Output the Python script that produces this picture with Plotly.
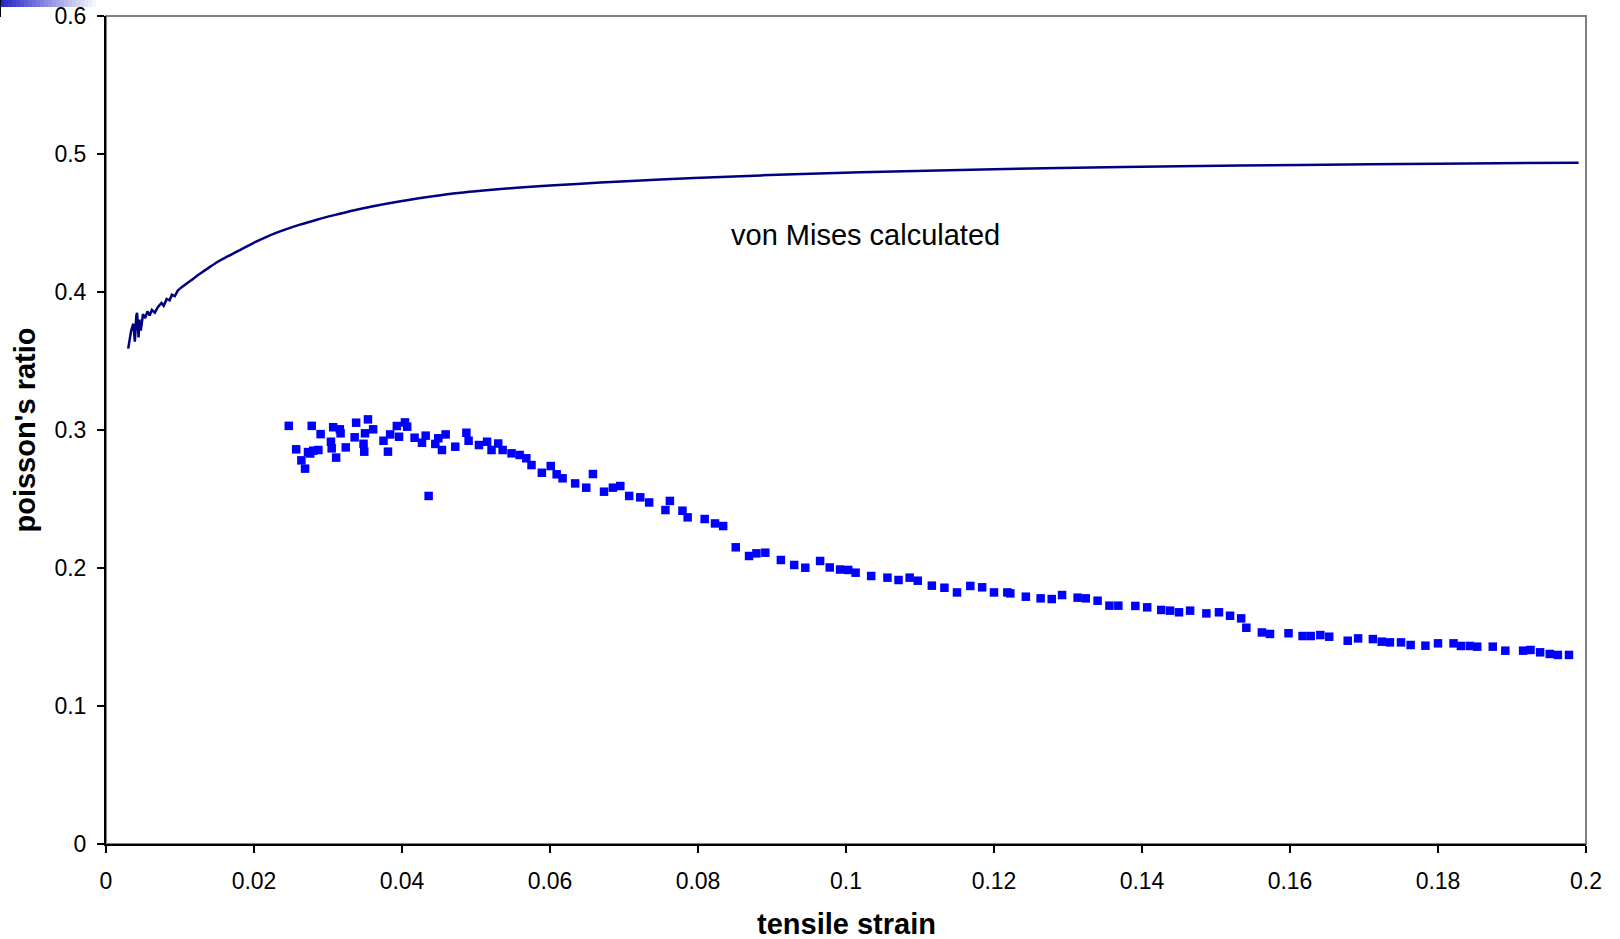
import plotly.graph_objects as go

# ---- data ----
# noisy start of the von Mises curve
vm_strain_start = [0.0030, 0.0034, 0.0037, 0.0039, 0.0041, 0.0042, 0.0044, 0.0045, 0.0047, 0.0048,
                   0.0050, 0.0053, 0.0056, 0.0059, 0.0062, 0.0066, 0.0070, 0.0075, 0.0078, 0.0082,
                   0.0086, 0.0089, 0.0093, 0.0097, 0.0100]
vm_ratio_start = [0.359, 0.372, 0.377, 0.364, 0.383, 0.385, 0.367, 0.380, 0.372, 0.378,
                  0.384, 0.381, 0.386, 0.383, 0.387, 0.385, 0.389, 0.392, 0.390, 0.395,
                  0.394, 0.398, 0.397, 0.401, 0.4025]
# smooth remainder of the von Mises curve
vm_strain = [0.0100, 0.0115, 0.0127, 0.0140, 0.0154, 0.0168, 0.0181, 0.0199, 0.0217, 0.0240,
             0.0262, 0.0285, 0.0307, 0.0334, 0.0361, 0.0400, 0.0442, 0.0476, 0.0510, 0.0555,
             0.0600, 0.0668, 0.0749, 0.0840, 0.0929, 0.1020, 0.1109, 0.1200, 0.1289, 0.1450,
             0.1614, 0.1800, 0.1990]
vm_ratio = [0.4025, 0.4085, 0.4132, 0.4180, 0.4228, 0.4268, 0.4304, 0.4355, 0.4400, 0.4448,
            0.4488, 0.4524, 0.4555, 0.4591, 0.4622, 0.4660, 0.4694, 0.4718, 0.4736, 0.4755,
            0.4771, 0.4793, 0.4815, 0.4836, 0.4853, 0.4867, 0.4879, 0.4890, 0.4899, 0.4911,
            0.4921, 0.4930, 0.4937]

meas_strain = [0.0247, 0.0257, 0.0264, 0.0269, 0.0273, 0.0276, 0.0278, 0.0280, 0.0287, 0.0290,
               0.0304, 0.0305, 0.0307, 0.0311, 0.0316, 0.0317, 0.0324, 0.0336, 0.0338, 0.0348,
               0.0349, 0.0350, 0.0354, 0.0361, 0.0375, 0.0381, 0.0384, 0.0393, 0.0396, 0.0404,
               0.0407, 0.0417, 0.0427, 0.0432, 0.0436, 0.0445, 0.0449, 0.0454, 0.0459, 0.0472,
               0.0487, 0.0490, 0.0504, 0.0515, 0.0521, 0.0530, 0.0536, 0.0548, 0.0559, 0.0568,
               0.0575, 0.0589, 0.0601, 0.0609, 0.0617, 0.0634, 0.0649, 0.0658, 0.0673, 0.0685,
               0.0695, 0.0707, 0.0722, 0.0734, 0.0756, 0.0762, 0.0779, 0.0786, 0.0809, 0.0823,
               0.0834, 0.0851, 0.0869, 0.0879, 0.0891, 0.0912, 0.0930, 0.0945, 0.0965, 0.0978,
               0.0992, 0.1003, 0.1013, 0.1034, 0.1056, 0.1071, 0.1086, 0.1097, 0.1116, 0.1133,
               0.1150, 0.1168, 0.1184, 0.1200, 0.1218, 0.1222, 0.1243, 0.1263, 0.1278, 0.1292,
               0.1313, 0.1324, 0.1340, 0.1356, 0.1368, 0.1391, 0.1407, 0.1426, 0.1438, 0.1450,
               0.1465, 0.1487, 0.1504, 0.1519, 0.1534, 0.1541, 0.1562, 0.1573, 0.1598, 0.1617,
               0.1628, 0.1641, 0.1653, 0.1678, 0.1692, 0.1712, 0.1724, 0.1735, 0.1750, 0.1763,
               0.1783, 0.1800, 0.1821, 0.1831, 0.1843, 0.1853, 0.1874, 0.1891, 0.1915, 0.1925,
               0.1938, 0.1951, 0.1962, 0.1977]
meas_ratio = [0.303, 0.286, 0.278, 0.272, 0.284, 0.283, 0.303, 0.285, 0.2855, 0.297,
              0.2915, 0.2867, 0.302, 0.280, 0.3005, 0.2976, 0.2874, 0.2947, 0.3053, 0.290,
              0.2843, 0.2976, 0.3077, 0.3005, 0.2922, 0.2843, 0.2968, 0.3029, 0.2951, 0.3055,
              0.3024, 0.2944, 0.2908, 0.2959, 0.2522, 0.2899, 0.2940, 0.2855, 0.2968, 0.2879,
              0.2980, 0.2922, 0.2891, 0.2915, 0.2855, 0.2902, 0.2855, 0.2831, 0.2819, 0.2795,
              0.2746, 0.2690, 0.2739, 0.2679, 0.2650, 0.2613, 0.2582, 0.2681, 0.2553, 0.2582,
              0.2594, 0.2522, 0.2512, 0.2475, 0.2420, 0.2486, 0.2415, 0.2367, 0.2355, 0.2323,
              0.2304, 0.2150, 0.2087, 0.2106, 0.2111, 0.2058, 0.2022, 0.2002, 0.2051, 0.2004,
              0.1989, 0.1986, 0.1966, 0.1942, 0.1930, 0.1913, 0.1930, 0.1908, 0.1872, 0.1857,
              0.1823, 0.1870, 0.1860, 0.1823, 0.1823, 0.1816, 0.1792, 0.1780, 0.1775, 0.1804,
              0.1785, 0.1780, 0.1763, 0.1727, 0.1727, 0.1725, 0.1715, 0.1696, 0.1691, 0.1679,
              0.1691, 0.1671, 0.1679, 0.1654, 0.1635, 0.1567, 0.1533, 0.1522, 0.1527, 0.1507,
              0.1507, 0.1514, 0.1502, 0.1473, 0.1490, 0.1485, 0.1466, 0.1461, 0.1461, 0.1442,
              0.1437, 0.1454, 0.1454, 0.1435, 0.1435, 0.1430, 0.1430, 0.1401, 0.1401, 0.1406,
              0.1389, 0.1377, 0.1370, 0.1370]

x_tickvals = [0, 0.02, 0.04, 0.06, 0.08, 0.1, 0.12, 0.14, 0.16, 0.18, 0.2]
x_ticktext = ["0", "0.02", "0.04", "0.06", "0.08", "0.1", "0.12", "0.14", "0.16", "0.18", "0.2"]
y_tickvals = [0, 0.1, 0.2, 0.3, 0.4, 0.5, 0.6]
y_ticktext = ["0", "0.1", "0.2", "0.3", "0.4", "0.5", "0.6"]

FONT = "Liberation Sans, Arial, sans-serif"
LINE = dict(color="#000080", width=2.5)

fig = go.Figure()
fig.add_trace(go.Scatter(x=vm_strain_start, y=vm_ratio_start, mode="lines",
                         line=LINE, showlegend=False))
fig.add_trace(go.Scatter(x=vm_strain, y=vm_ratio, mode="lines",
                         line=dict(LINE, shape="spline", smoothing=0.8), showlegend=False))
fig.add_trace(go.Scatter(x=meas_strain, y=meas_ratio, mode="markers",
                         marker=dict(symbol="square", size=8.5, color="#0000FF", line=dict(width=0)),
                         showlegend=False))

fig.add_annotation(x=0.1027, y=0.441, text="von Mises calculated", showarrow=False,
                   font=dict(family=FONT, size=29, color="black"), xanchor="center", yanchor="middle")
# x-axis title
fig.add_annotation(x=0.5, y=0, xref="paper", yref="paper", yshift=-80, height=30,
                   text="<b>tensile strain</b>", showarrow=False,
                   font=dict(family=FONT, size=29, color="black"), xanchor="center", yanchor="middle")

shapes = [dict(type="rect", xref="paper", yref="paper", x0=0, x1=1, y0=0, y1=1,
               line=dict(color="#808080", width=2), layer="below")]
# decorative gradient bar at the top-left corner
n = 25
for i in range(n):
    t = i / (n - 1)
    r = int(40 + (255 - 40) * t)
    g = int(40 + (255 - 40) * t)
    b = int(200 + (255 - 200) * t)
    shapes.append(dict(type="rect", xref="paper", yref="paper", xsizemode="pixel", ysizemode="pixel",
                       xanchor=0, yanchor=1, x0=-106 + i * 4, x1=-106 + (i + 1) * 4, y0=9, y1=16,
                       fillcolor=f"rgb({r},{g},{b})", line=dict(width=0), layer="above"))
shapes.append(dict(type="rect", xref="paper", yref="paper", xsizemode="pixel", ysizemode="pixel",
                   xanchor=0, yanchor=1, x0=-106, x1=-105, y0=-1, y1=16,
                   fillcolor="black", line=dict(width=0), layer="above"))

fig.update_layout(
    width=1620, height=939,
    margin=dict(l=106, r=34, t=16, b=95, autoexpand=False),
    paper_bgcolor="white", plot_bgcolor="white",
    font=dict(family=FONT, color="black"),
    shapes=shapes,
    xaxis=dict(range=[0, 0.2], tickvals=x_tickvals, ticktext=x_ticktext, automargin=False,
               showgrid=False, zeroline=False, showline=True, linecolor="black", linewidth=2,
               ticks="outside", ticklen=7, tickwidth=2, tickcolor="black",
               tickfont=dict(size=23, family=FONT), ticklabelstandoff=8),
    yaxis=dict(range=[0, 0.6], tickvals=y_tickvals, ticktext=y_ticktext, automargin=False,
               showgrid=False, zeroline=False, showline=True, linecolor="black", linewidth=2,
               ticks="outside", ticklen=7, tickwidth=2, tickcolor="black",
               tickfont=dict(size=23, family=FONT), ticklabelstandoff=6,
               title=dict(text="<b>poisson's ratio</b>", font=dict(size=29, family=FONT), standoff=10)),
)

fig.write_html("out.html")
